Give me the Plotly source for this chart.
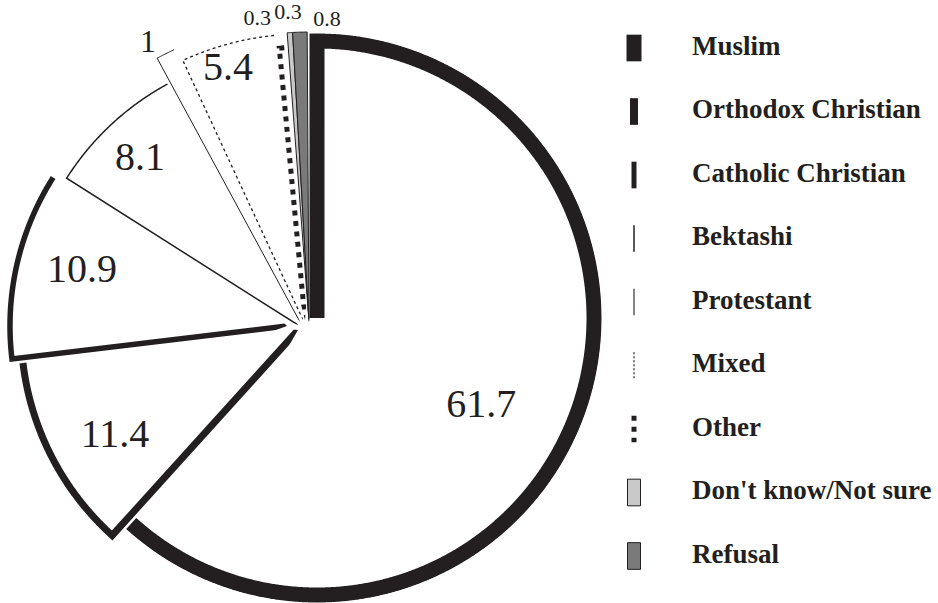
import numpy as np
import plotly.graph_objects as go

W, H = 938, 603

# ---- data ----
categories = ["Muslim", "Orthodox Christian", "Catholic Christian", "Bektashi",
              "Protestant", "Mixed", "Other", "Don't know/Not sure", "Refusal"]
values = [61.7, 11.4, 10.9, 8.1, 1, 5.4, 0.3, 0.3, 0.8]
value_labels = ["61.7", "11.4", "10.9", "8.1", "1", "5.4", "0.3", "0.3", "0.8"]

# ---- styles (positions / sizes, not data) ----
INK = "#231f20"
SERIF = "Liberation Serif"
slice_centers_px = [(317, 318), (298, 330), (287, 326), (298, 325), (300, 322),
                    (303, 320), (305, 320), (309, 322), (309, 322)]
slice_radius_px = [277, 277, 277, 274, 300, 286, 273, 290, 290]
# visible sector of each polar subplot (screen degrees, counter-clockwise from east)
sectors = [(0, 360), (175, 240), (135, 200), (110, 160), (105, 130),
           (88, 122), (85, 105), (85, 100), (80, 100)]
range_px = [285, 290, 285, 290, 322, 300, 310, 316, 316]
line_w = [15, 7, 5.5, 1.5, 1, 1.3, 5, 1, 1]
dashes = ["solid", "solid", "solid", "solid", "solid", "3px,3px", "5px,5.5px", "solid", "solid"]
fills = [None, None, None, None, None, None, None, "#c9c9c9", "#7a7a7a"]
label_r_px = [187, 212, 212, 228, 317, 261, 304, 309, 302]
label_dtheta = [7.5, -2.9, 2, -0.8, -2, -1.6, -4.2, -0.1, 5.2]
label_size = [40, 40, 40, 40, 32, 40, 22, 22, 22]

# legend styles
leg_sym_w = [15, 8, 5, 1.5, 1.1, 1.2, 5, 13, 13]
leg_dash = ["solid", "solid", "solid", "solid", "solid", "2px,2px", "5px,6px", "solid", "solid"]
LEG_X0_PX = 600
LEG_SYM_X = 34
LEG_TEXT_X = 92
LEG_HALF = 0.21
LEG_TOP_PX, LEG_STEP_PX = 48, 63.5


def sector_bbox(s0, s1):
    """Bounding box (unit circle, y up) of a sector incl. its centre."""
    xs, ys = [0.0], [0.0]
    for a in (s0, s1):
        xs.append(np.cos(np.radians(a)))
        ys.append(np.sin(np.radians(a)))
    for c in range(0, 720, 90):
        if s0 <= c <= s1:
            xs.append(np.cos(np.radians(c)))
            ys.append(np.sin(np.radians(c)))
    return min(xs), min(ys), max(xs), max(ys)


fig = go.Figure()

deg = np.array(values) * 3.6
ends = np.cumsum(deg)
starts = ends - deg

for i, cat in enumerate(categories):
    key = "polar" if i == 0 else f"polar{i+1}"
    cx, cy = slice_centers_px[i]
    RP = range_px[i]
    R = slice_radius_px[i] / RP
    s, e = starts[i], ends[i]
    n = max(2, int(np.ceil((e - s) / 0.25)) + 1)
    arc = np.linspace(s, e, n)
    if fills[i] is None:
        fig.add_trace(go.Scatterpolar(
            r=[0] + [R] * n, theta=[s] + list(arc), mode="lines", subplot=key,
            line=dict(color=INK, width=line_w[i], dash=dashes[i]),
            hoverinfo="skip", showlegend=False))
    else:
        fig.add_trace(go.Scatterpolar(
            r=[0] + [R] * n + [0], theta=[s] + list(arc) + [e], mode="lines", subplot=key,
            fill="toself", fillcolor=fills[i],
            line=dict(color=INK, width=line_w[i]),
            hoverinfo="skip", showlegend=False))
    # value label
    fig.add_trace(go.Scatterpolar(
        r=[label_r_px[i] / RP], theta=[(s + e) / 2 + label_dtheta[i]],
        mode="text", text=[value_labels[i]], subplot=key, cliponaxis=False,
        textposition="middle center",
        textfont=dict(family=SERIF, size=label_size[i], color=INK),
        hoverinfo="skip", showlegend=False))

    bx0, by0, bx1, by1 = sector_bbox(*sectors[i])
    fig.layout[key] = dict(
        domain=dict(x=[(cx + RP * bx0) / W, (cx + RP * bx1) / W],
                    y=[(H - cy + RP * by0) / H, (H - cy + RP * by1) / H]),
        sector=list(sectors[i]),
        bgcolor="rgba(0,0,0,0)",
        angularaxis=dict(visible=False, rotation=90, direction="clockwise",
                         showgrid=False, showline=False),
        radialaxis=dict(visible=False, range=[0, 1], showgrid=False, showline=False),
    )

# ---- legend drawn as a small cartesian subplot ----
idx = list(range(len(categories)))
for i in idx:
    if fills[i] is None:
        fig.add_trace(go.Scatter(
            x=[LEG_SYM_X, LEG_SYM_X], y=[i - LEG_HALF, i + LEG_HALF], mode="lines",
            line=dict(color=INK, width=leg_sym_w[i], dash=leg_dash[i]),
            hoverinfo="skip", showlegend=False, xaxis="x", yaxis="y"))
    else:
        hw = leg_sym_w[i] / 2
        fig.add_trace(go.Scatter(
            x=[LEG_SYM_X - hw, LEG_SYM_X + hw, LEG_SYM_X + hw, LEG_SYM_X - hw, LEG_SYM_X - hw],
            y=[i - LEG_HALF, i - LEG_HALF, i + LEG_HALF, i + LEG_HALF, i - LEG_HALF],
            mode="lines", fill="toself", fillcolor=fills[i],
            line=dict(color=INK, width=1),
            hoverinfo="skip", showlegend=False, xaxis="x", yaxis="y"))

fig.add_trace(go.Scatter(
    x=[LEG_TEXT_X] * len(categories), y=idx, text=categories, mode="text",
    textposition="middle right",
    textfont=dict(family=SERIF, size=27, color=INK, weight="bold"),
    hoverinfo="skip", showlegend=False, xaxis="x", yaxis="y", cliponaxis=False))

fig.update_layout(
    width=W, height=H,
    margin=dict(l=0, r=0, t=0, b=0),
    paper_bgcolor="white", plot_bgcolor="rgba(0,0,0,0)",
    showlegend=False, hovermode=False,
    xaxis=dict(domain=[LEG_X0_PX / W, 1], range=[0, W - LEG_X0_PX], visible=False, fixedrange=True),
    yaxis=dict(domain=[0, 1],
               range=[(H - LEG_TOP_PX) / LEG_STEP_PX, -LEG_TOP_PX / LEG_STEP_PX],
               visible=False, fixedrange=True),
)

fig.write_html("out.html",
               config={"displayModeBar": False, "staticPlot": True},
               post_script="document.body.style.margin='0';document.body.style.overflow='hidden';")
